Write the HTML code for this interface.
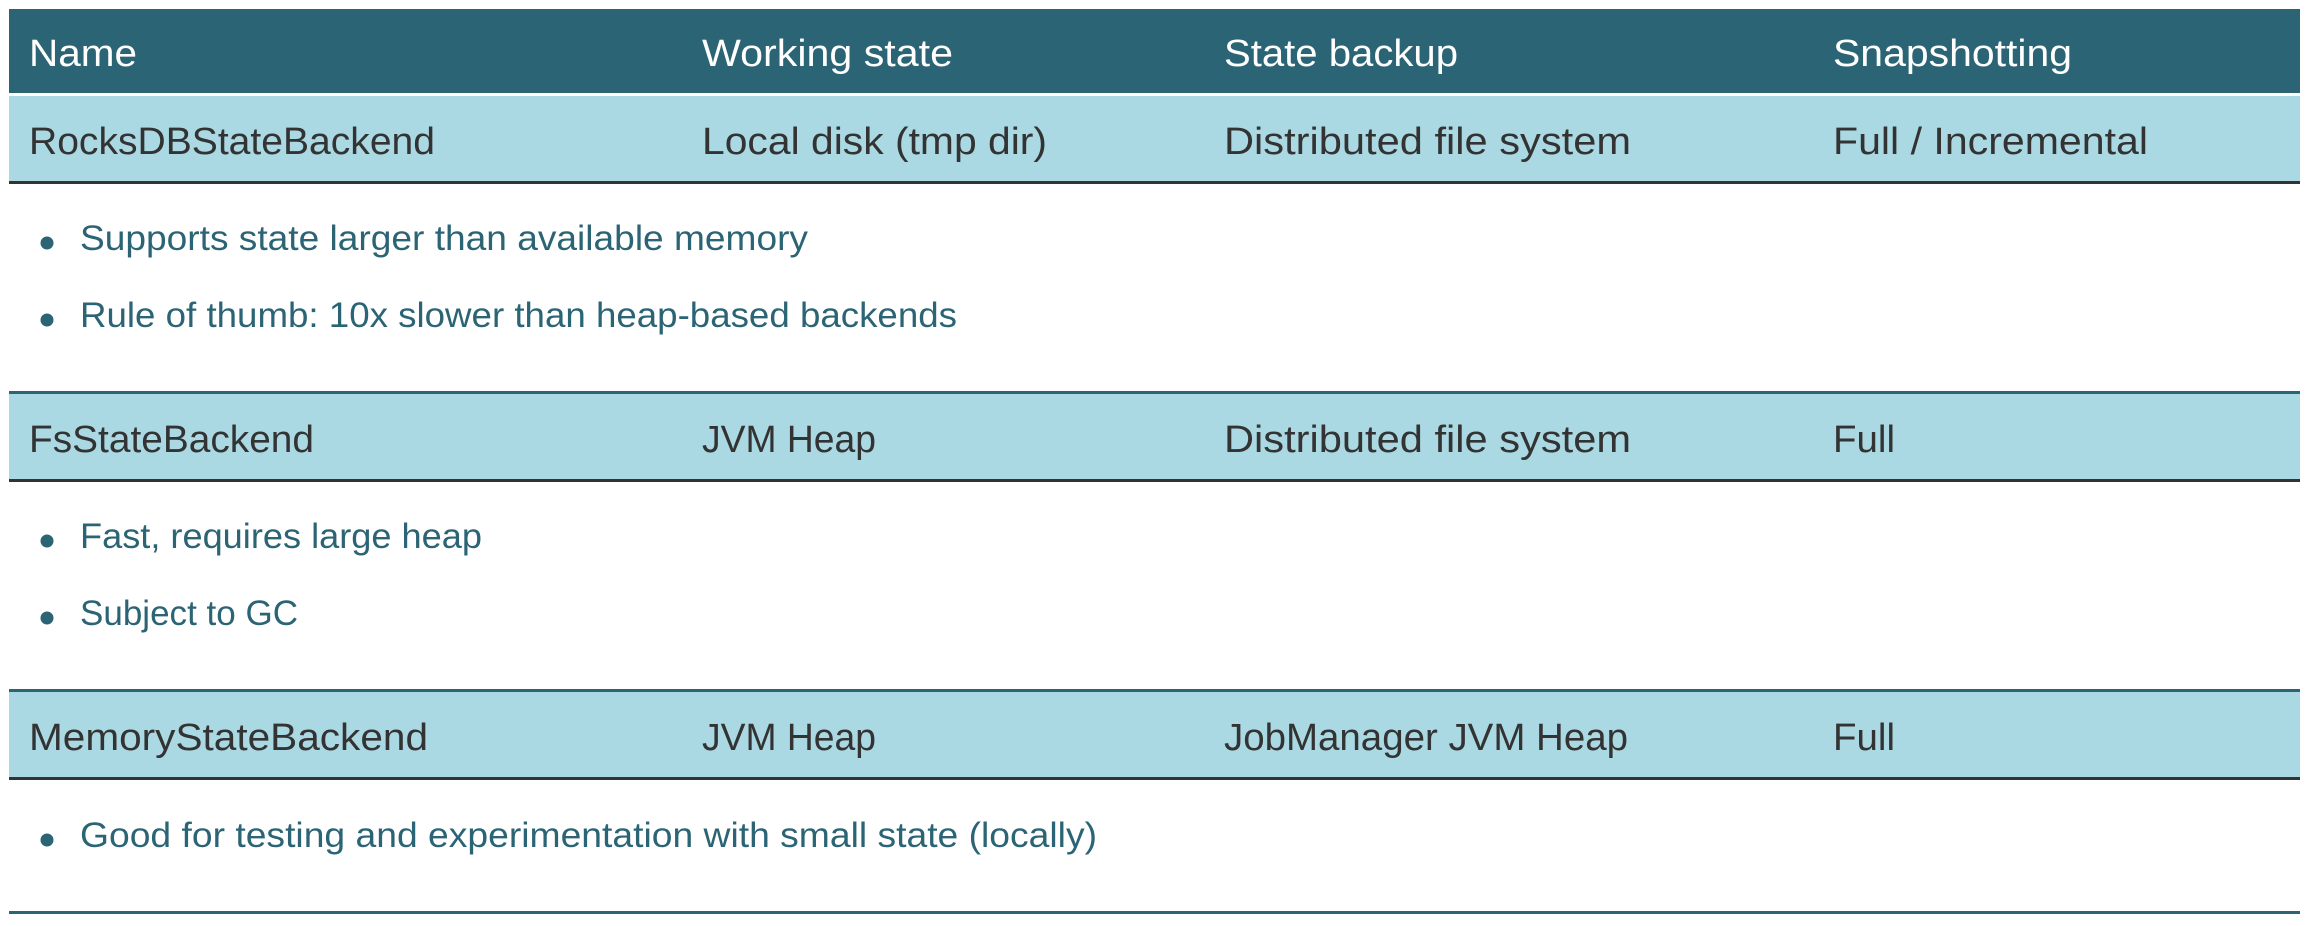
<!DOCTYPE html>
<html><head><meta charset="utf-8"><style>
html,body{margin:0;padding:0;background:#fff;}
svg{display:block;}
text{font-family:"Liberation Sans",sans-serif;}
.h{fill:#fff;font-size:38px;}
.r{fill:#333;font-size:38px;}
.b{fill:#2b6474;font-size:35px;}
</style></head><body>
<svg width="2312" height="926" viewBox="0 0 2312 926" xmlns="http://www.w3.org/2000/svg">
<rect x="9" y="9" width="2291" height="84" fill="#2b6474"/>
<rect x="9" y="96" width="2291" height="85" fill="#aad9e3"/>
<rect x="9" y="181" width="2291" height="3" fill="#333"/>
<rect x="9" y="391" width="2291" height="3" fill="#2b6474"/>
<rect x="9" y="394" width="2291" height="85" fill="#aad9e3"/>
<rect x="9" y="479" width="2291" height="3" fill="#333"/>
<rect x="9" y="689" width="2291" height="3" fill="#2b6474"/>
<rect x="9" y="692" width="2291" height="85" fill="#aad9e3"/>
<rect x="9" y="777" width="2291" height="3" fill="#333"/>
<rect x="9" y="911" width="2291" height="3" fill="#2b6474"/>

<text class="h" x="29" y="66" textLength="108" lengthAdjust="spacingAndGlyphs">Name</text>
<text class="h" x="702" y="66" textLength="251" lengthAdjust="spacingAndGlyphs">Working state</text>
<text class="h" x="1224" y="66" textLength="234" lengthAdjust="spacingAndGlyphs">State backup</text>
<text class="h" x="1833" y="66" textLength="239" lengthAdjust="spacingAndGlyphs">Snapshotting</text>

<text class="r" x="29" y="154" textLength="406" lengthAdjust="spacingAndGlyphs">RocksDBStateBackend</text>
<text class="r" x="702" y="154" textLength="345" lengthAdjust="spacingAndGlyphs">Local disk (tmp dir)</text>
<text class="r" x="1224" y="154" textLength="407" lengthAdjust="spacingAndGlyphs">Distributed file system</text>
<text class="r" x="1833" y="154" textLength="315" lengthAdjust="spacingAndGlyphs">Full / Incremental</text>

<text class="r" x="29" y="452" textLength="285" lengthAdjust="spacingAndGlyphs">FsStateBackend</text>
<text class="r" x="702" y="452" textLength="174" lengthAdjust="spacingAndGlyphs">JVM Heap</text>
<text class="r" x="1224" y="452" textLength="407" lengthAdjust="spacingAndGlyphs">Distributed file system</text>
<text class="r" x="1833" y="452" textLength="62" lengthAdjust="spacingAndGlyphs">Full</text>

<text class="r" x="29" y="750" textLength="399" lengthAdjust="spacingAndGlyphs">MemoryStateBackend</text>
<text class="r" x="702" y="750" textLength="174" lengthAdjust="spacingAndGlyphs">JVM Heap</text>
<text class="r" x="1224" y="750" textLength="404" lengthAdjust="spacingAndGlyphs">JobManager JVM Heap</text>
<text class="r" x="1833" y="750" textLength="62" lengthAdjust="spacingAndGlyphs">Full</text>

<g fill="#2b6474">
<circle cx="47" cy="243" r="6.5"/>
<circle cx="47" cy="320" r="6.5"/>
<circle cx="47" cy="541" r="6.5"/>
<circle cx="47" cy="618" r="6.5"/>
<circle cx="47" cy="840" r="6.5"/>
</g>
<text class="b" x="80" y="250" textLength="728" lengthAdjust="spacingAndGlyphs">Supports state larger than available memory</text>
<text class="b" x="80" y="327" textLength="877" lengthAdjust="spacingAndGlyphs">Rule of thumb: 10x slower than heap-based backends</text>
<text class="b" x="80" y="548" textLength="402" lengthAdjust="spacingAndGlyphs">Fast, requires large heap</text>
<text class="b" x="80" y="625" textLength="218" lengthAdjust="spacingAndGlyphs">Subject to GC</text>
<text class="b" x="80" y="847" textLength="1017" lengthAdjust="spacingAndGlyphs">Good for testing and experimentation with small state (locally)</text>
</svg>
</body></html>
